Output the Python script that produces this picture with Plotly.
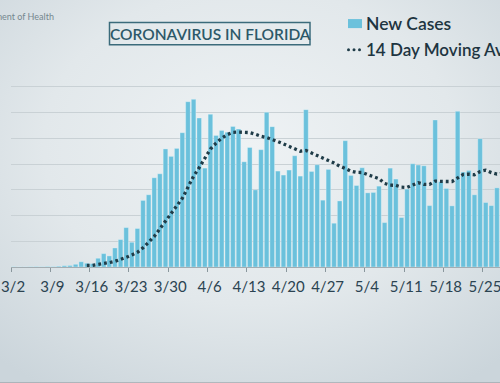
import base64
import plotly.graph_objects as go

# ---- data ----
tick_labels = ["3/2", "3/9", "3/16", "3/23", "3/30", "4/6", "4/13",
               "4/20", "4/27", "5/4", "5/11", "5/18", "5/25"]
new_cases = [2, 1, 1, 2, 3, 2, 4, 3, 6, 10, 12,
             21, 41, 29, 26, 68, 104, 86, 148, 213, 306,
             192, 299, 517, 561, 693, 724, 917, 859, 921, 1043,
             1284, 1302, 1157, 768, 1186, 1022, 1061, 1046, 1092, 1071,
             817, 928, 599, 911, 1201, 1090, 745, 714, 753, 864,
             706, 1222, 742, 794, 519, 758, 340, 513, 981, 711,
             633, 771, 576, 579, 628, 345, 768, 683, 384, 605,
             802, 792, 786, 477, 1142, 662, 610, 475, 1209, 737,
             750, 561, 997, 501, 477, 615, 700]
moving_avg = [None] * 13 + [
    13, 13, 21, 26, 34, 44, 58, 75, 93, 114,
    149, 192, 237, 297, 356, 414, 468, 534, 620, 706,
    772, 850, 916, 962, 1001, 1028, 1046, 1048, 1048, 1044,
    1031, 1015, 1006, 992, 974, 956, 937, 917, 899, 905,
    885, 861, 842, 827, 808, 783, 766, 745, 735, 734,
    717, 704, 686, 649, 636, 634, 620, 618, 640, 655,
    641, 641, 667, 663, 664, 664, 692, 719, 721, 717,
    742, 752, 733, 721, 729]

W, H = 500, 383
L, R, T, B = 11, 0, 61.3, 116.3

x_bar = [i + 0.5 for i in range(len(new_cases))]
x_ma = [i + 0.5 for i in range(len(moving_avg))]
tick_vals = [7 * k for k in range(len(tick_labels))]

BAR = "#6bc1dc"
DARK = "#1f3c48"

fig = go.Figure()
fig.add_trace(go.Bar(
    x=x_bar, y=new_cases, width=0.82,
    marker=dict(color=BAR, line=dict(color="rgba(235,248,252,0.55)", width=0.6)),
    name="New Cases", showlegend=False,
))
fig.add_trace(go.Scatter(
    x=x_ma, y=moving_avg, mode="lines",
    line=dict(color=DARK, width=3.3, dash="2.8px,3px"),
    name="14 Day Moving Average", showlegend=False,
))

# background gradient
svg = """<svg xmlns='http://www.w3.org/2000/svg' width='500' height='383'>
<defs><radialGradient id='g' cx='0.5' cy='0.38' r='0.75'>
<stop offset='0' stop-color='#eef2f4'/>
<stop offset='0.55' stop-color='#e2e8eb'/>
<stop offset='1' stop-color='#cbd5db'/>
</radialGradient></defs>
<rect width='500' height='383' fill='url(#g)'/></svg>"""
src = "data:image/svg+xml;base64," + base64.b64encode(svg.encode()).decode()

pw = W - L - R
ph = H - T - B
fig.add_layout_image(dict(
    source=src, xref="paper", yref="paper",
    x=-L / pw, y=1 + T / ph, sizex=W / pw, sizey=H / ph,
    xanchor="left", yanchor="top", sizing="stretch", layer="below",
))

def px(xp):
    return (xp - L) / pw

def py(yp):
    return (H - B - yp) / ph

shapes = [
    dict(type="rect", xref="paper", yref="paper",
         x0=px(109.5), x1=px(310), y0=py(45), y1=py(23),
         line=dict(color="#3b6b7b", width=1.5)),
    dict(type="rect", xref="paper", yref="paper",
         x0=px(348), x1=px(362), y0=py(28.5), y1=py(19.5),
         fillcolor=BAR, line=dict(width=0)),
    dict(type="line", xref="paper", yref="paper",
         x0=px(0), x1=px(500), y0=py(382.5), y1=py(382.5),
         line=dict(color="#8d9499", width=1.2)),
]
for cx in (348.5, 354, 359.5):
    shapes.append(dict(type="circle", xref="paper", yref="paper",
                       x0=px(cx - 1.5), x1=px(cx + 1.5), y0=py(51.5), y1=py(48.5),
                       fillcolor=DARK, line=dict(width=0)))

annotations = [
    dict(text="CORONAVIRUS IN FLORIDA", xref="paper", yref="paper",
         x=px(210), y=py(34.5), xanchor="center", yanchor="middle", showarrow=False,
         font=dict(family="Lato", size=15.5, color="#2c5868", weight=600)),
    dict(text="New Cases", xref="paper", yref="paper",
         x=px(363.5), y=py(24), xanchor="left", yanchor="middle", showarrow=False,
         font=dict(family="Lato", size=17.5, color="#1e3541", weight=600)),
    dict(text="14 Day Moving Average", xref="paper", yref="paper",
         x=px(363.5), y=py(49.5), xanchor="left", yanchor="middle", showarrow=False,
         font=dict(family="Lato", size=17, color="#1e3541", weight=600)),
    dict(text="Source: Florida Department of Health", xref="paper", yref="paper",
         x=px(56), y=py(16.5), xanchor="right", yanchor="middle", showarrow=False,
         font=dict(family="Lato", size=9, color="#75878f")),
]

fig.update_layout(
    width=W, height=H,
    margin=dict(l=L, r=R, t=T, b=B, pad=0),
    paper_bgcolor="#dfe6ea",
    plot_bgcolor="rgba(0,0,0,0)",
    showlegend=False,
    bargap=0.18,
    shapes=shapes,
    annotations=annotations,
    xaxis=dict(
        range=[0, (W - L) / 5.618], tickmode="array", tickvals=tick_vals,
        ticktext=tick_labels, ticks="outside", ticklen=4, tickwidth=1.4,
        tickcolor="#8a979d", showgrid=False, zeroline=False,
        showline=True, linecolor="#a3adb2", linewidth=1.4,
        tickfont=dict(family="Lato", size=15, color="#2b4351"),
        ticklabeloverflow="allow", ticklabelshift=2, ticklabelstandoff=2,
        fixedrange=True,
    ),
    yaxis=dict(
        range=[0, 1600], dtick=200, showticklabels=False, ticks="",
        showgrid=True, gridcolor="#c9d1d5", gridwidth=1.3,
        zeroline=False, fixedrange=True,
    ),
)

fig.write_html("out.html", config={"displayModeBar": False},
               post_script="document.body.style.margin='0';document.body.style.overflow='hidden';")
